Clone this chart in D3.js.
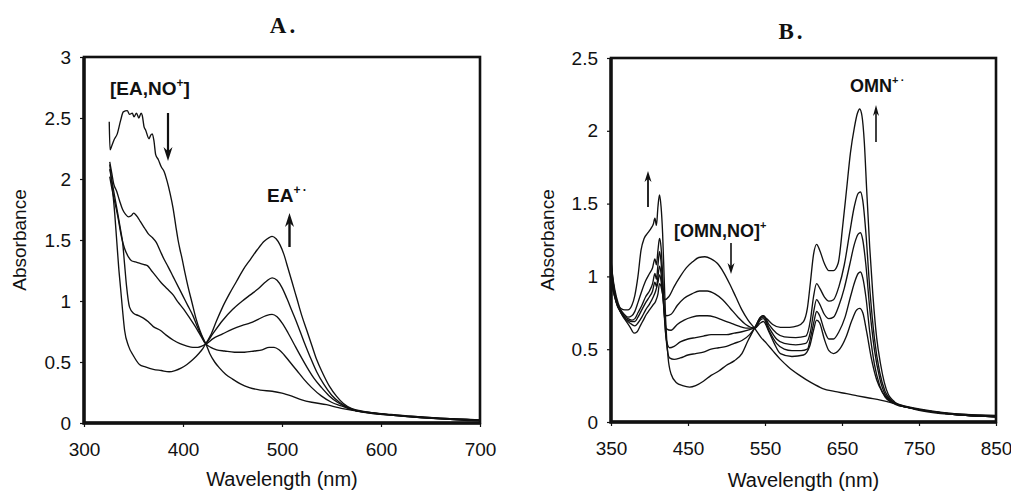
<!DOCTYPE html>
<html>
<head>
<meta charset="utf-8">
<script src="https://cdn.jsdelivr.net/npm/d3@7"></script>
<style>
  html, body { margin: 0; padding: 0; background: #fff; }
  svg { display: block; }
</style>
</head>
<body>
<svg id="chart" width="1011" height="493"></svg>
<script>
// ---------- Panel A : EA / NO+ spectra ----------
const panelATicksX = [300, 400, 500, 600, 700];
const panelATicksY = [0, 0.5, 1, 1.5, 2, 2.5, 3];
const panelATickLabelsY = ["0", "0.5", "1", "1.5", "2", "2.5", "3"];

// [wavelength nm, absorbance]
const eaSpec1 = [[325.5,2.47],[326.3,2.24],[328,2.27],[330.3,2.32],[333.6,2.37],[337,2.48],[339.7,2.55],[343.7,2.56],[346,2.53],[348.8,2.54],[350.5,2.51],[353,2.54],[355.4,2.5],[357.7,2.54],[358.9,2.52],[360.6,2.43],[362.3,2.4],[365.7,2.33],[367.4,2.36],[369,2.37],[370.7,2.31],[372.4,2.2],[375,2.16],[378,2.1],[381,2.06],[384,1.98],[387,1.88],[390,1.76],[393,1.6],[395,1.5],[397,1.42],[399,1.35],[402,1.23],[405,1.12],[409,0.99],[413,0.86],[417,0.76],[420,0.7],[423,0.65],[427,0.57],[432,0.5],[437,0.45],[443,0.4],[450,0.36],[458,0.32],[467,0.29],[478,0.27],[490,0.26],[500,0.245],[510,0.22],[520,0.19],[530,0.17],[545,0.15],[560,0.12],[575,0.1],[590,0.08],[610,0.065],[630,0.05],[650,0.04],[670,0.03],[690,0.02],[700,0.02]];
const eaSpec2 = [[326,2.14],[328,2.05],[330,1.96],[333,1.9],[336,1.82],[339,1.75],[342,1.71],[345,1.69],[348,1.7],[350,1.72],[352,1.71],[354,1.69],[357,1.65],[361,1.6],[365,1.55],[369,1.52],[373,1.48],[377,1.41],[381,1.34],[385,1.28],[390,1.2],[395,1.12],[400,1.04],[405,0.96],[410,0.88],[414,0.8],[419,0.71],[423,0.65],[428,0.62],[434,0.6],[442,0.59],[452,0.58],[462,0.58],[472,0.59],[480,0.6],[487,0.62],[492,0.62],[497,0.6],[502,0.56],[508,0.5],[515,0.43],[522,0.36],[530,0.29],[540,0.22],[550,0.17],[560,0.14],[570,0.11],[580,0.095],[600,0.075],[630,0.055],[660,0.04],[690,0.03],[700,0.025]];
const eaSpec3 = [[326,2.02],[328,1.93],[330,1.85],[334,1.7],[338,1.52],[341,1.43],[345,1.36],[348,1.33],[352,1.32],[356,1.31],[360,1.3],[364,1.29],[368,1.25],[372,1.21],[378,1.15],[384,1.1],[390,1.05],[395,0.99],[400,0.94],[406,0.87],[414,0.77],[419,0.7],[423,0.65],[430,0.69],[440,0.73],[450,0.77],[460,0.8],[468,0.82],[476,0.85],[484,0.88],[490,0.89],[495,0.87],[500,0.82],[506,0.74],[512,0.65],[518,0.56],[525,0.46],[532,0.37],[540,0.29],[548,0.22],[556,0.17],[565,0.13],[575,0.1],[590,0.085],[610,0.07],[640,0.05],[670,0.035],[700,0.025]];
const eaSpec4 = [[326,2.08],[328,1.99],[330,1.9],[334,1.72],[337,1.58],[339,1.48],[341,1.3],[343,1.12],[346,0.95],[350,0.9],[355,0.88],[360,0.86],[365,0.83],[370,0.79],[377,0.76],[383,0.72],[390,0.68],[397,0.65],[404,0.63],[410,0.62],[415,0.62],[419,0.63],[423,0.65],[430,0.73],[440,0.84],[450,0.93],[460,1.0],[468,1.05],[476,1.1],[484,1.16],[490,1.19],[495,1.17],[500,1.11],[505,1.02],[510,0.92],[516,0.8],[522,0.67],[528,0.55],[535,0.42],[542,0.32],[550,0.23],[558,0.17],[566,0.13],[575,0.1],[590,0.08],[610,0.065],[640,0.045],[670,0.03],[700,0.02]];
const eaSpec5 = [[326,2.12],[329,1.9],[331,1.72],[333,1.5],[335,1.28],[337,1.1],[339,0.92],[341,0.76],[345,0.63],[350,0.55],[356,0.48],[362,0.46],[370,0.44],[378,0.43],[386,0.42],[392,0.43],[398,0.45],[404,0.48],[410,0.52],[416,0.57],[420,0.61],[423,0.65],[428,0.72],[434,0.84],[440,0.95],[447,1.06],[454,1.16],[461,1.26],[468,1.34],[475,1.42],[482,1.49],[487,1.52],[490,1.53],[494,1.51],[498,1.46],[502,1.38],[506,1.27],[510,1.16],[515,1.02],[520,0.88],[525,0.76],[530,0.64],[535,0.52],[541,0.41],[548,0.3],[555,0.22],[562,0.16],[570,0.12],[580,0.1],[595,0.08],[615,0.06],[640,0.045],[670,0.03],[700,0.02]];

// ---------- Panel B : OMN / NO+ spectra ----------
const panelBTicksX = [350, 450, 550, 650, 750, 850];
const panelBTicksY = [0, 0.5, 1, 1.5, 2, 2.5];
const panelBTickLabelsY = ["0", "0.5", "1", "1.5", "2", "2.5"];

const omnSpec1 = [[350,1.0],[352,0.92],[355,0.86],[358,0.8],[362,0.76],[366,0.72],[370,0.69],[375,0.65],[380,0.61],[384,0.62],[388,0.66],[392,0.7],[396,0.74],[400,0.77],[404,0.8],[408,0.83],[411,0.88],[413,0.95],[415,0.93],[417,0.88],[420,0.84],[425,0.86],[432,0.93],[440,1.0],[448,1.06],[456,1.1],[464,1.13],[472,1.135],[480,1.12],[488,1.09],[496,1.03],[504,0.95],[512,0.86],[520,0.77],[528,0.7],[537,0.64],[545,0.58],[552,0.54],[560,0.49],[570,0.43],[580,0.38],[595,0.32],[610,0.27],[625,0.23],[640,0.21],[656,0.195],[670,0.18],[685,0.165],[700,0.15],[716,0.13],[730,0.11],[750,0.085],[770,0.07],[800,0.055],[830,0.048],[850,0.045]];
const omnSpec2 = [[350,1.02],[353,0.9],[357,0.82],[362,0.76],[367,0.72],[372,0.69],[377,0.67],[381,0.66],[385,0.68],[390,0.72],[395,0.77],[400,0.81],[405,0.86],[408,0.9],[411,0.96],[413,1.01],[415,0.97],[417,0.88],[419,0.78],[422,0.73],[428,0.74],[436,0.8],[445,0.85],[455,0.88],[465,0.9],[475,0.9],[485,0.88],[495,0.84],[505,0.78],[515,0.72],[525,0.67],[537,0.645],[544,0.68],[548,0.69],[555,0.62],[562,0.54],[570,0.47],[585,0.45],[600,0.46],[608,0.52],[613,0.63],[617,0.7],[621,0.68],[627,0.57],[633,0.49],[639,0.47],[647,0.5],[655,0.58],[663,0.7],[669,0.77],[673,0.78],[677,0.75],[682,0.62],[688,0.44],[695,0.29],[703,0.2],[711,0.15],[720,0.125],[735,0.1],[750,0.085],[775,0.065],[800,0.05],[830,0.04],[850,0.035]];
const omnSpec3 = [[350,1.05],[353,0.92],[357,0.82],[362,0.76],[367,0.72],[372,0.7],[377,0.69],[381,0.69],[385,0.72],[390,0.77],[395,0.82],[400,0.86],[404,0.9],[407,0.96],[409,0.93],[411,1.0],[413,1.07],[415,1.02],[417,0.9],[419,0.75],[422,0.64],[428,0.63],[436,0.67],[445,0.7],[455,0.72],[465,0.73],[475,0.73],[485,0.72],[495,0.7],[505,0.68],[515,0.66],[525,0.645],[537,0.645],[544,0.7],[548,0.71],[555,0.63],[565,0.54],[575,0.5],[585,0.49],[597,0.49],[605,0.5],[610,0.6],[614,0.7],[617,0.76],[621,0.73],[627,0.63],[633,0.57],[639,0.57],[646,0.62],[654,0.72],[661,0.86],[667,0.97],[671,1.02],[674,1.03],[677,0.99],[681,0.86],[686,0.62],[692,0.4],[699,0.25],[706,0.17],[713,0.14],[720,0.12],[735,0.1],[750,0.08],[775,0.06],[800,0.05],[830,0.04],[850,0.035]];
const omnSpec4 = [[350,1.08],[353,0.95],[357,0.84],[362,0.77],[367,0.73],[372,0.71],[377,0.7],[381,0.71],[385,0.75],[390,0.8],[395,0.86],[400,0.9],[404,0.95],[407,1.02],[409,0.98],[411,1.08],[413,1.17],[415,1.1],[417,0.95],[419,0.75],[422,0.56],[426,0.51],[432,0.52],[440,0.55],[450,0.57],[460,0.58],[470,0.59],[480,0.6],[490,0.6],[500,0.6],[510,0.61],[520,0.62],[530,0.635],[537,0.65],[544,0.71],[548,0.72],[555,0.65],[565,0.57],[575,0.54],[590,0.53],[603,0.54],[609,0.62],[613,0.75],[617,0.84],[621,0.81],[627,0.74],[633,0.71],[639,0.72],[646,0.8],[653,0.92],[660,1.08],[666,1.22],[671,1.29],[674,1.3],[677,1.25],[681,1.08],[686,0.78],[692,0.5],[699,0.3],[706,0.19],[713,0.15],[720,0.125],[735,0.1],[750,0.085],[775,0.065],[800,0.05],[830,0.04],[850,0.035]];
const omnSpec5 = [[350,1.1],[353,0.97],[357,0.86],[362,0.78],[367,0.74],[372,0.72],[377,0.73],[381,0.76],[385,0.82],[390,0.9],[395,0.97],[400,1.02],[404,1.06],[407,1.12],[409,1.08],[411,1.18],[413,1.26],[415,1.2],[417,1.02],[419,0.78],[422,0.55],[426,0.44],[432,0.43],[440,0.44],[450,0.46],[460,0.47],[470,0.48],[480,0.5],[490,0.51],[500,0.52],[510,0.54],[520,0.56],[530,0.6],[537,0.65],[544,0.72],[548,0.73],[555,0.67],[565,0.61],[575,0.585],[590,0.58],[603,0.59],[609,0.7],[613,0.86],[617,0.95],[621,0.92],[627,0.86],[633,0.83],[639,0.84],[646,0.93],[653,1.08],[660,1.3],[666,1.48],[671,1.57],[674,1.58],[677,1.52],[681,1.3],[686,0.92],[692,0.58],[699,0.34],[706,0.21],[713,0.155],[720,0.13],[735,0.105],[750,0.09],[775,0.07],[800,0.055],[830,0.045],[850,0.04]];
const omnSpec6 = [[350,1.12],[352,1.0],[355,0.88],[359,0.8],[363,0.78],[368,0.77],[372,0.77],[377,0.8],[381,0.87],[385,1.0],[389,1.18],[393,1.26],[398,1.3],[402,1.33],[405,1.36],[407,1.4],[409,1.35],[411,1.48],[413,1.56],[415,1.48],[417,1.3],[419,1.0],[421,0.7],[424,0.45],[428,0.33],[435,0.27],[443,0.25],[452,0.24],[460,0.25],[470,0.28],[480,0.32],[490,0.35],[500,0.39],[510,0.42],[520,0.47],[528,0.56],[533,0.61],[537,0.65],[543,0.71],[547,0.73],[552,0.71],[560,0.67],[570,0.65],[582,0.65],[592,0.66],[600,0.69],[605,0.78],[609,0.96],[613,1.15],[617,1.22],[621,1.18],[627,1.09],[633,1.04],[639,1.04],[645,1.09],[651,1.35],[656,1.6],[661,1.85],[666,2.02],[670,2.12],[673,2.15],[676,2.1],[679,1.92],[682,1.6],[686,1.2],[690,0.88],[695,0.58],[700,0.4],[705,0.27],[710,0.19],[716,0.15],[722,0.12],[735,0.1],[750,0.085],[775,0.065],[800,0.05],[830,0.04],[850,0.035]];

const SANS = '"Liberation Sans", Arial, sans-serif';
const SERIF = '"Liberation Serif", "Times New Roman", serif';
const INK = "#111";

const svg = d3.select("#chart");

function drawPanel(cfg) {
  const x = d3.scaleLinear().domain(cfg.xDomain).range([cfg.left, cfg.right]);
  const y = d3.scaleLinear().domain(cfg.yDomain).range([cfg.bottom, cfg.top]);
  const g = svg.append("g");

  // spectra
  const line = d3.line()
    .x(d => x(d[0]))
    .y(d => y(d[1]))
    .curve(d3.curveMonotoneX);
  g.selectAll("path.spec")
    .data(cfg.series)
    .join("path")
    .attr("class", "spec")
    .attr("d", line)
    .attr("fill", "none")
    .attr("stroke", INK)
    .attr("stroke-width", 1.35)
    .attr("stroke-linejoin", "round");

  // axes
  const yAxis = d3.axisLeft(y).tickValues(cfg.yTicks)
    .tickFormat((d, i) => cfg.yLabels[i]).tickSize(4).tickPadding(9);
  const xAxis = d3.axisBottom(x).tickValues(cfg.xTicks)
    .tickFormat(d3.format("d")).tickSize(4).tickPadding(16);
  const ya = g.append("g").attr("transform", `translate(${cfg.left},0)`).call(yAxis);
  const xa = g.append("g").attr("transform", `translate(0,${cfg.bottom})`).call(xAxis);
  [ya, xa].forEach(a => {
    a.select(".domain").remove();
    a.selectAll("line").attr("stroke", INK).attr("stroke-width", 1.2);
    a.selectAll("text")
      .style("font-family", SANS).style("font-size", "19px").style("fill", INK);
  });

  // frame
  g.append("rect")
    .attr("x", cfg.left).attr("y", cfg.top)
    .attr("width", cfg.right - cfg.left).attr("height", cfg.bottom - cfg.top)
    .attr("fill", "none").attr("stroke", INK).attr("stroke-width", 2.6);
  g.append("path")
    .attr("d", `M${cfg.left},${cfg.top}V${cfg.bottom}H${cfg.right}`)
    .attr("fill", "none").attr("stroke", INK).attr("stroke-width", 3.4);

  // panel letter
  g.append("text")
    .attr("x", cfg.titleX).attr("y", cfg.titleY)
    .attr("text-anchor", "middle")
    .style("font-family", SERIF).style("font-weight", "bold")
    .style("font-size", "23px").style("letter-spacing", "3px").style("fill", INK)
    .text(cfg.title);
  // axis titles
  g.append("text")
    .attr("transform", `translate(${cfg.yLabelX},${(cfg.top + cfg.bottom) / 2}) rotate(-90)`)
    .attr("text-anchor", "middle")
    .style("font-family", SANS).style("font-size", "19px").style("fill", INK)
    .text("Absorbance");
  g.append("text")
    .attr("x", (cfg.left + cfg.right) / 2).attr("y", cfg.xLabelY)
    .attr("text-anchor", "middle")
    .style("font-family", SANS).style("font-size", "20px").style("fill", INK)
    .text("Wavelength  (nm)");

  return { x, y, g };
}

function arrow(g, x0, yTail, yTip, w, head, sw) {
  const dir = yTip < yTail ? -1 : 1;
  g.append("line")
    .attr("x1", x0).attr("x2", x0)
    .attr("y1", yTail).attr("y2", yTip - dir * head * 0.6)
    .attr("stroke", INK).attr("stroke-width", sw);
  g.append("path")
    .attr("d", `M${x0},${yTip}L${x0 - w / 2},${yTip - dir * head}L${x0},${yTip - dir * head * 0.7}L${x0 + w / 2},${yTip - dir * head}Z`)
    .attr("fill", INK);
}

function label(g, xPos, yPos, main, sup, tail, size) {
  const t = g.append("text")
    .attr("x", xPos).attr("y", yPos)
    .style("font-family", SANS).style("font-weight", "bold")
    .style("font-size", size + "px").style("fill", INK);
  t.append("tspan").text(main);
  t.append("tspan").attr("dy", -8).style("font-size", Math.round(size * 0.62) + "px").text(sup);
  if (tail) t.append("tspan").attr("dy", 8).text(tail);
}

// Panel A
const A = drawPanel({
  left: 84, right: 480, top: 57, bottom: 423,
  xDomain: [300, 700], yDomain: [0, 3],
  xTicks: panelATicksX, yTicks: panelATicksY, yLabels: panelATickLabelsY,
  series: [eaSpec1, eaSpec2, eaSpec3, eaSpec4, eaSpec5],
  title: "A.", titleX: 284, titleY: 33, yLabelX: 26, xLabelY: 486
});
label(A.g, 110, 95, "[EA,NO", "+", "]", 19);
arrow(A.g, 168, 113, 161, 9, 14, 2.2);
label(A.g, 267, 202, "EA", "+\u2009\u00B7", null, 19);
arrow(A.g, 289.5, 247, 213, 9, 14, 2.4);

// Panel B
const B = drawPanel({
  left: 611, right: 996, top: 58, bottom: 422,
  xDomain: [350, 850], yDomain: [0, 2.5],
  xTicks: panelBTicksX, yTicks: panelBTicksY, yLabels: panelBTickLabelsY,
  series: [omnSpec1, omnSpec2, omnSpec3, omnSpec4, omnSpec5, omnSpec6],
  title: "B.", titleX: 792, titleY: 39, yLabelX: 554, xLabelY: 487
});
label(B.g, 674, 237, "[OMN,NO]", "+", null, 18);
arrow(B.g, 731, 243, 274, 7, 11, 1.6);
arrow(B.g, 648, 207, 171, 7, 11, 1.8);
label(B.g, 850, 92, "OMN", "+\u2009\u00B7", null, 18);
arrow(B.g, 876, 142, 105, 6, 11, 1.6);
</script>
</body>
</html>
